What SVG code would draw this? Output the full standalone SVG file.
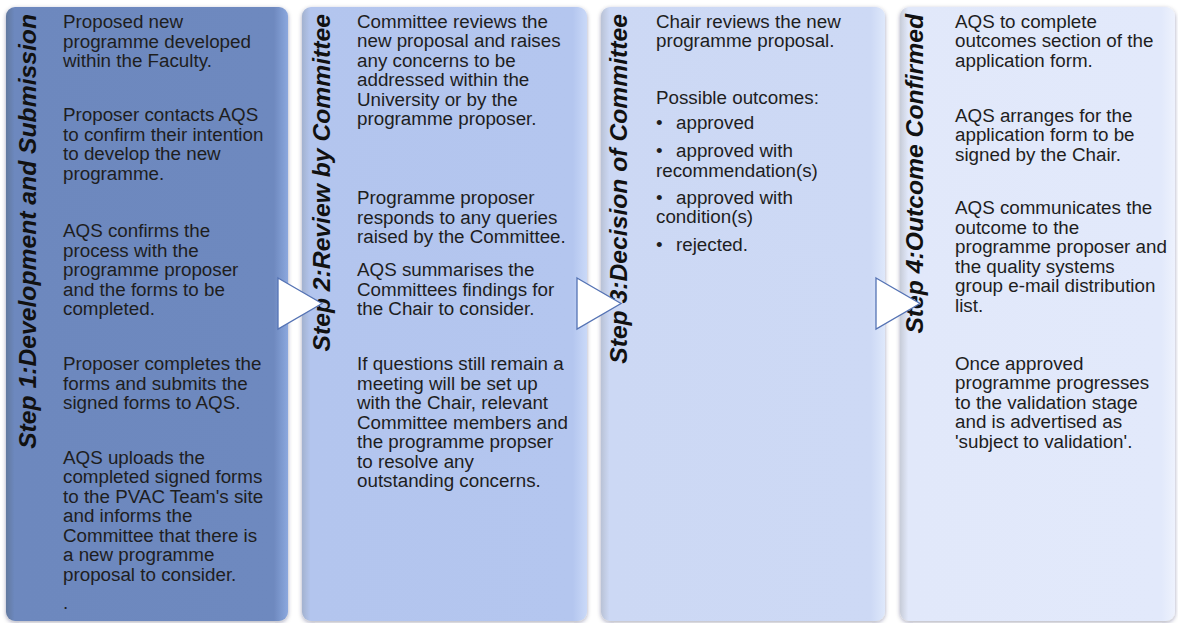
<svg xmlns="http://www.w3.org/2000/svg" width="1178" height="623" viewBox="0 0 1178 623">
  <style>
    .body { font-family: "Liberation Sans", Arial, sans-serif; font-size: 18.8px; fill: #1e1e1e; }
    .head { font-family: "Liberation Sans", Arial, sans-serif; font-size: 24.7px; font-weight: bold; font-style: italic; fill: #111111; }
    .panel { filter: url(#soft); }
    .arrow { fill: #ffffff; stroke: #5573b4; stroke-width: 1.3; stroke-linejoin: miter; }
  </style>
  <defs>
    <filter id="soft" x="-5%" y="-3%" width="110%" height="106%">
      <feDropShadow dx="0" dy="1.5" stdDeviation="2" flood-color="#1a2440" flood-opacity="0.35"/>
    </filter>
    <linearGradient id="g1" x1="0" y1="0" x2="1" y2="0">
      <stop offset="0" stop-color="#62799f"/>
      <stop offset="0.03" stop-color="#6d88be"/>
      <stop offset="0.95" stop-color="#6e89bf"/>
      <stop offset="1" stop-color="#8ca8de"/>
    </linearGradient>
    <linearGradient id="g2" x1="0" y1="0" x2="1" y2="0">
      <stop offset="0" stop-color="#a3b2cf"/>
      <stop offset="0.03" stop-color="#b3c5ee"/>
      <stop offset="0.95" stop-color="#b4c6ef"/>
      <stop offset="1" stop-color="#cad9f8"/>
    </linearGradient>
    <linearGradient id="g3" x1="0" y1="0" x2="1" y2="0">
      <stop offset="0" stop-color="#b9c2d6"/>
      <stop offset="0.03" stop-color="#ccd8f4"/>
      <stop offset="0.95" stop-color="#cdd9f5"/>
      <stop offset="1" stop-color="#dee8fb"/>
    </linearGradient>
    <linearGradient id="g4" x1="0" y1="0" x2="1" y2="0">
      <stop offset="0" stop-color="#c7ccd8"/>
      <stop offset="0.03" stop-color="#e1e8fa"/>
      <stop offset="0.95" stop-color="#e2e9fb"/>
      <stop offset="1" stop-color="#eef2fd"/>
    </linearGradient>
  </defs>

  <rect width="1178" height="623" fill="#ffffff"/>

  <!-- Step 1 -->
  <g id="step1">
    <rect class="panel" x="6" y="7" width="282" height="614" rx="9" fill="url(#g1)"/>
    <text class="head" transform="translate(36,14) rotate(-90)" text-anchor="end">Step 1:Development and Submission</text>
    <text class="body" x="63">
      <tspan x="63" y="28">Proposed new</tspan>
      <tspan x="63" y="47.5">programme developed</tspan>
      <tspan x="63" y="67">within the Faculty.</tspan>
      <tspan x="63" y="121">Proposer contacts AQS</tspan>
      <tspan x="63" y="140.5">to confirm their intention</tspan>
      <tspan x="63" y="160">to develop the new</tspan>
      <tspan x="63" y="179.5">programme.</tspan>
      <tspan x="63" y="237">AQS confirms the</tspan>
      <tspan x="63" y="256.5">process with the</tspan>
      <tspan x="63" y="276">programme proposer</tspan>
      <tspan x="63" y="295.5">and the forms to be</tspan>
      <tspan x="63" y="315">completed.</tspan>
      <tspan x="63" y="370">Proposer completes the</tspan>
      <tspan x="63" y="389.5">forms and submits the</tspan>
      <tspan x="63" y="409">signed forms to AQS.</tspan>
      <tspan x="63" y="463.5">AQS uploads the</tspan>
      <tspan x="63" y="483">completed signed forms</tspan>
      <tspan x="63" y="502.5">to the PVAC Team's site</tspan>
      <tspan x="63" y="522">and informs the</tspan>
      <tspan x="63" y="541.5">Committee that there is</tspan>
      <tspan x="63" y="561">a new programme</tspan>
      <tspan x="63" y="581">proposal to consider.</tspan>
      <tspan x="63" y="609">.</tspan>
    </text>
  </g>

  <!-- Step 2 -->
  <g id="step2">
    <rect class="panel" x="302" y="7" width="285" height="614" rx="9" fill="url(#g2)"/>
    <text class="head" transform="translate(329.5,14) rotate(-90)" text-anchor="end">Step 2:Review by Committee</text>
    <text class="body">
      <tspan x="357" y="27.5">Committee reviews the</tspan>
      <tspan x="357" y="47">new proposal and raises</tspan>
      <tspan x="357" y="66.5">any concerns to be</tspan>
      <tspan x="357" y="86">addressed within the</tspan>
      <tspan x="357" y="105.5">University or by the</tspan>
      <tspan x="357" y="125">programme proposer.</tspan>
      <tspan x="357" y="204">Programme proposer</tspan>
      <tspan x="357" y="223.5">responds to any queries</tspan>
      <tspan x="357" y="243">raised by the Committee.</tspan>
      <tspan x="357" y="276">AQS summarises the</tspan>
      <tspan x="357" y="295.5">Committees findings for</tspan>
      <tspan x="357" y="315">the Chair to consider.</tspan>
      <tspan x="357" y="370">If questions still remain a</tspan>
      <tspan x="357" y="389.5">meeting will be set up</tspan>
      <tspan x="357" y="409">with the Chair, relevant</tspan>
      <tspan x="357" y="428.5">Committee members and</tspan>
      <tspan x="357" y="448">the programme propser</tspan>
      <tspan x="357" y="467.5">to resolve any</tspan>
      <tspan x="357" y="487">outstanding concerns.</tspan>
    </text>
  </g>

  <!-- Step 3 -->
  <g id="step3">
    <rect class="panel" x="601" y="7" width="284" height="614" rx="9" fill="url(#g3)"/>
    <text class="head" transform="translate(627,14) rotate(-90)" text-anchor="end">Step 3:Decision of Committee</text>
    <text class="body">
      <tspan x="656" y="27.5">Chair reviews the new</tspan>
      <tspan x="656" y="47">programme proposal.</tspan>
      <tspan x="656" y="103.5">Possible outcomes:</tspan>
      <tspan x="656" y="129">•</tspan><tspan x="676" y="129">approved</tspan>
      <tspan x="656" y="157">•</tspan><tspan x="676" y="157">approved with</tspan>
      <tspan x="656" y="176.5">recommendation(s)</tspan>
      <tspan x="656" y="204">•</tspan><tspan x="676" y="204">approved with</tspan>
      <tspan x="656" y="223">condition(s)</tspan>
      <tspan x="656" y="250.5">•</tspan><tspan x="676" y="250.5">rejected.</tspan>
    </text>
  </g>

  <!-- Step 4 -->
  <g id="step4">
    <rect class="panel" x="900" y="7" width="275" height="614" rx="9" fill="url(#g4)"/>
    <text class="head" transform="translate(923,14) rotate(-90)" text-anchor="end">Step 4:Outcome Confirmed</text>
    <text class="body">
      <tspan x="955" y="27.5">AQS to complete</tspan>
      <tspan x="955" y="47">outcomes section of the</tspan>
      <tspan x="955" y="66.5">application form.</tspan>
      <tspan x="955" y="121.5">AQS arranges for the</tspan>
      <tspan x="955" y="141">application form to be</tspan>
      <tspan x="955" y="160.5">signed by the Chair.</tspan>
      <tspan x="955" y="214">AQS communicates the</tspan>
      <tspan x="955" y="233.5">outcome to the</tspan>
      <tspan x="955" y="253">programme proposer and</tspan>
      <tspan x="955" y="272.5">the quality systems</tspan>
      <tspan x="955" y="292">group e-mail distribution</tspan>
      <tspan x="955" y="312">list.</tspan>
      <tspan x="955" y="369.5">Once approved</tspan>
      <tspan x="955" y="389">programme progresses</tspan>
      <tspan x="955" y="408.5">to the validation stage</tspan>
      <tspan x="955" y="428">and is advertised as</tspan>
      <tspan x="955" y="447.5">'subject to validation'.</tspan>
    </text>
  </g>

  <!-- Connectors: step-to-step arrowheads -->
  <g id="connectors">
    <polygon class="arrow" points="278,278 322,303.5 278,329"/>
    <polygon class="arrow" points="577,278 621,303.5 577,329"/>
    <polygon class="arrow" points="876,278 920,303.5 876,329"/>
  </g>
</svg>
